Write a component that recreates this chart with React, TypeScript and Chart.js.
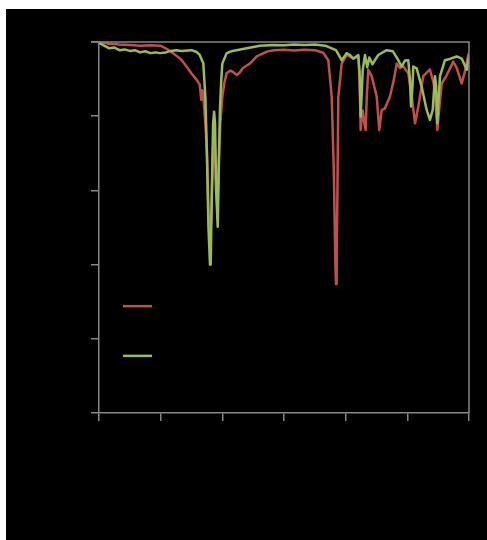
import React, { useEffect, useRef } from "react";
import { Chart, registerables } from "chart.js";

Chart.register(...registerables);

const seriesNames = ["Sample A", "Sample B"];
const xTitle = "Wavenumber (cm⁻¹)";
const yTitle = "Transmittance (%)";

const redWavenumbers = [
  4000, 3900, 3800, 3700, 3600, 3500, 3406, 3350, 3280, 3200, 3147, 3100, 3049, 3020, 3005, 2995, 2985, 2965, 2950,
  2935, 2920, 2905, 2890, 2875, 2860, 2848, 2835, 2820, 2800, 2780, 2758, 2720, 2690, 2660, 2630, 2600, 2531, 2466,
  2434, 2368, 2300, 2200, 2100, 2000, 1900, 1818, 1769, 1736, 1715, 1700, 1694, 1688, 1680, 1672, 1639, 1590, 1526,
  1477, 1465, 1454, 1444, 1434, 1418, 1405, 1395, 1380, 1347, 1298, 1273, 1249, 1220, 1169, 1130, 1103, 1071, 1040,
  991, 957, 925, 893, 845, 780, 745, 731, 708, 690, 666, 617, 553, 520, 471, 440, 407, 400,
];
const redTransmittance = [
  100, 99.5, 99.3, 99.2, 99.0, 99.1, 99.0, 98.3, 97.0, 95.3, 93.3, 91.5, 89.8, 88.5, 84.4, 87.0, 85.5, 78, 70, 55, 45,
  55, 72, 74, 60, 55, 68, 78, 85.3, 89, 91.6, 92.3, 91.8, 91.1, 91.8, 93, 94.2, 96.1, 96.5, 97.4, 97.8, 97.9, 97.7,
  97.9, 97.8, 97.1, 95.1, 85.3, 65, 40, 34.8, 40, 60, 85, 94.2, 96.5, 95.6, 96, 90, 76.3, 80, 81.5, 78, 76.3, 85, 92.5,
  90.8, 85.3, 76.3, 81.7, 82, 85.3, 90, 94.2, 93, 93.5, 91.6, 85.3, 78.1, 82.6, 90.8, 92.6, 89, 86.2, 76.3, 82, 88.8,
  91.1, 94.7, 93, 88.8, 92, 96.5, 97,
];

const greenWavenumbers = [
  4000, 3950, 3900, 3850, 3800, 3750, 3700, 3650, 3600, 3550, 3500, 3450, 3406, 3350, 3300, 3250, 3200, 3100, 3049,
  3020, 2985, 2965, 2950, 2935, 2920, 2913, 2905, 2890, 2880, 2871, 2860, 2845, 2835, 2823, 2810, 2800, 2758, 2700,
  2563, 2434, 2300, 2200, 2100, 2000, 1900, 1800, 1694, 1639, 1590, 1558, 1526, 1477, 1465, 1454, 1434, 1412, 1390,
  1370, 1340, 1283, 1201, 1140, 1088, 1055, 1023, 991, 975, 964, 950, 942, 909, 860, 812, 780, 753, 731, 720, 708, 695,
  682, 634, 580, 520, 470, 422, 407, 400,
];
const greenTransmittance = [
  99.8, 99, 98.3, 98.5, 97.8, 98, 97.6, 97.8, 97.2, 97.5, 97.0, 97.2, 97.0, 97.2, 97.6, 97.8, 97.6, 97.8, 97.3, 96.5,
  94.2, 85, 70, 50, 40, 40.5, 55, 78, 81.2, 78, 60, 50.2, 65, 82, 90, 94.2, 97, 97.6, 98.3, 99, 99.2, 99.1, 99.3, 99.2,
  99.3, 99.0, 97.8, 95.1, 97, 96.5, 95.5, 96.5, 92, 79.9, 92.5, 96.5, 93.2, 95.8, 94, 96.5, 97.8, 97.5, 95.1, 93.4, 95,
  95.1, 90, 82.6, 88, 93.4, 92.9, 87.9, 81.7, 79, 81.7, 90.8, 88, 78.1, 85, 90.8, 95.1, 95.5, 96.1, 95.5, 92.5, 95.1,
  96,
];

const xMin = 400;
const xMax = 4000;
const xStep = 600;
const yMin = 0;
const yMax = 100;
const yStep = 20;

const RED = "#c0504d";
const GREEN = "#9bbb59";
const AXIS = "#868686";

const toPoints = (xs: number[], ys: number[]) => xs.map((x, i) => ({ x, y: ys[i] }));

const framePlugin = {
  id: "frameAndLegend",
  afterDraw(chart: any) {
    const { ctx, chartArea } = chart;
    const { left, right, top, bottom } = chartArea;
    ctx.save();
    ctx.strokeStyle = AXIS;
    ctx.lineWidth = 1.5;
    ctx.beginPath();
    ctx.moveTo(left - 8, top);
    ctx.lineTo(right, top);
    ctx.lineTo(right, bottom);
    ctx.stroke();
    // legend inside plot
    const h = bottom - top;
    const rows = [top + h * 0.712, top + h * 0.846];
    chart.data.datasets.forEach((ds: any, i: number) => {
      const y = rows[i];
      const x0 = left + 24;
      ctx.strokeStyle = ds.borderColor;
      ctx.lineWidth = 2.5;
      ctx.beginPath();
      ctx.moveTo(x0, y);
      ctx.lineTo(x0 + 29, y);
      ctx.stroke();
      ctx.fillStyle = "#000000";
      ctx.font = "12px 'Liberation Sans', Arial, sans-serif";
      ctx.textBaseline = "middle";
      ctx.fillText(ds.label, x0 + 35, y);
    });
    ctx.restore();
  },
};

export default function App() {
  const ref = useRef<HTMLCanvasElement | null>(null);
  useEffect(() => {
    if (!ref.current) return;
    const chart = new Chart(ref.current, {
      type: "line",
      data: {
        datasets: [
          {
            label: seriesNames[0],
            data: toPoints(redWavenumbers, redTransmittance),
            borderColor: RED,
            backgroundColor: RED,
            borderWidth: 2.5,
            pointRadius: 0,
            tension: 0,
            borderJoinStyle: "round",
            order: 2,
          },
          {
            label: seriesNames[1],
            data: toPoints(greenWavenumbers, greenTransmittance),
            borderColor: GREEN,
            backgroundColor: GREEN,
            borderWidth: 2.5,
            pointRadius: 0,
            tension: 0,
            borderJoinStyle: "round",
            order: 1,
          },
        ],
      },
      options: {
        animation: false,
        responsive: false,
        maintainAspectRatio: false,
        layout: { padding: { top: 33, right: 18, left: 0, bottom: 0 } },
        plugins: { legend: { display: false }, tooltip: { enabled: false } },
        scales: {
          x: {
            type: "linear",
            reverse: true,
            min: xMin,
            max: xMax,
            ticks: { stepSize: xStep, color: "#000000", font: { size: 12 } },
            grid: { drawOnChartArea: false, drawTicks: true, tickLength: 8, color: AXIS, lineWidth: 1.5 },
            border: { color: AXIS, width: 1.5 },
            title: { display: true, text: xTitle, color: "#000000", font: { size: 13 } },
            afterFit: (s: any) => {
              s.height = 127;
            },
          },
          y: {
            type: "linear",
            min: yMin,
            max: yMax,
            ticks: { stepSize: yStep, color: "#000000", font: { size: 12 } },
            grid: { drawOnChartArea: false, drawTicks: true, tickLength: 8, color: AXIS, lineWidth: 1.5 },
            border: { color: AXIS, width: 1.5 },
            title: { display: true, text: yTitle, color: "#000000", font: { size: 13 } },
            afterFit: (s: any) => {
              s.width = 93;
            },
          },
        },
      },
      plugins: [framePlugin],
    } as any);
    return () => chart.destroy();
  }, []);
  return (
    <div style={{ position: "fixed", left: 6, top: 9, width: 481, height: 531, background: "#000" }}>
      <canvas ref={ref} width={481} height={531} style={{ display: "block", background: "#000" }} />
    </div>
  );
}
